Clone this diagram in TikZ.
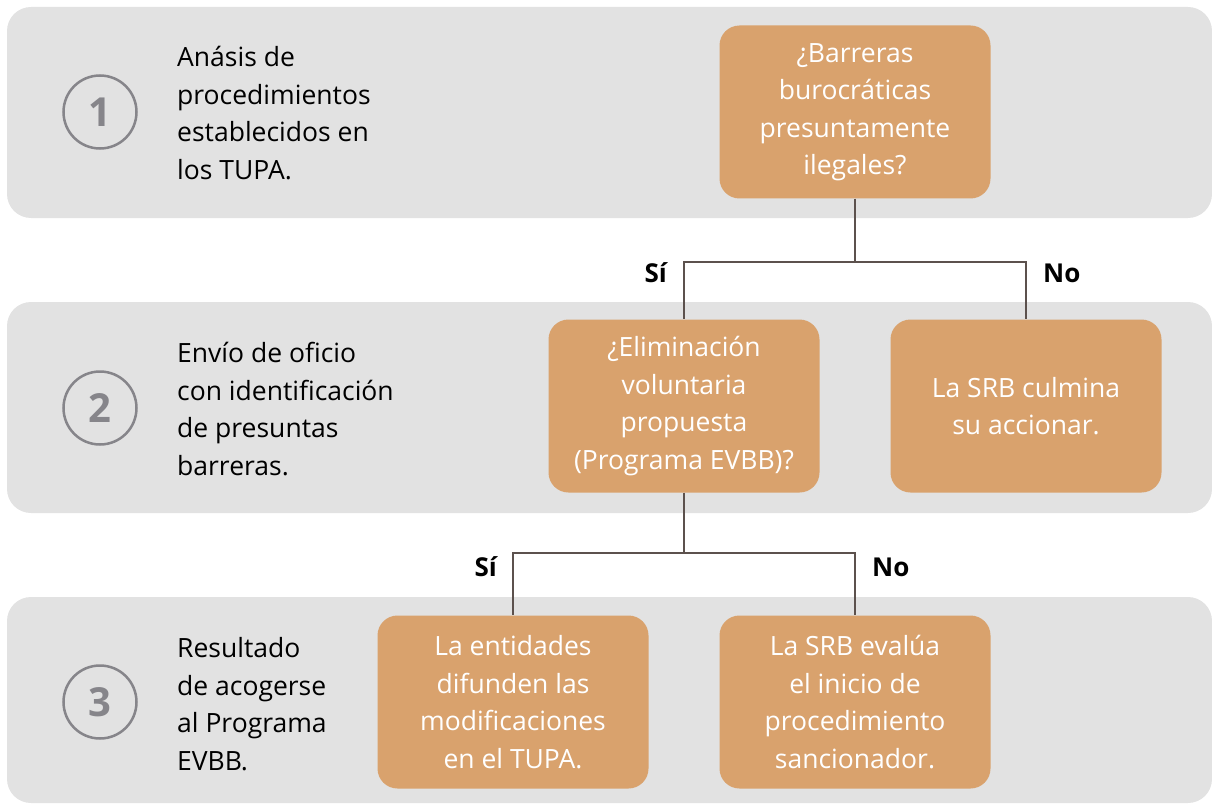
\documentclass[tikz,border=0pt]{standalone}
\usepackage{fontspec}
\setmainfont{Open Sans}
\usetikzlibrary{positioning}
\definecolor{bandgray}{HTML}{E2E2E2}
\definecolor{boxorange}{HTML}{D9A26D}
\definecolor{linkgray}{HTML}{5C514D}
\definecolor{numgray}{HTML}{86858A}

\begin{document}
\begin{tikzpicture}[x=1pt,y=-1pt,
  band/.style={fill=bandgray,rounded corners=24pt},
  main node/.style={fill=boxorange,rounded corners=20pt,minimum width=271pt,
    minimum height=173pt,align=center,text=white,
    font=\fontsize{26.5}{37.5}\selectfont},
  num node/.style={circle,draw=numgray,line width=2.5pt,minimum size=73pt,
    text=numgray,font=\fontsize{40}{40}\selectfont\bfseries},
  side text/.style={anchor=west,align=left,inner sep=0pt,
    font=\fontsize{26.5}{37.5}\selectfont},
  answer/.style={anchor=base,inner sep=0pt,font=\fontsize{26}{30}\selectfont\bfseries},
  link/.style={draw=linkgray,line width=2.4pt}]

  \useasboundingbox (0,0) rectangle (1212,805);

  % bands
  \fill[band] (7,7) rectangle (1212,218);
  \fill[band] (7,302) rectangle (1212,513);
  \fill[band] (7,597) rectangle (1212,803);

  % steps
  \node[num node] (n1) at (100,112) {1};
  \node[num node] (n2) at (100,408) {2};
  \node[num node] (n3) at (100,702) {3};

  \node[side text] (t1) at (177,113) {Anásis de\\procedimientos\\establecidos en\\los TUPA.};
  \node[side text] (t2) at (177,409) {Envío de oficio\\con identificación\\de presuntas\\barreras.};
  \node[side text] (t3) at (177,704) {Resultado\\de acogerse\\al Programa\\EVBB.};

  % decisions
  \node[main node] (1) at (855,112) {¿Barreras\\burocráticas\\presuntamente\\ilegales?};
  \node[main node] (2) at (684,406) {¿Eliminación\\voluntaria\\propuesta\\(Programa EVBB)?};
  \node[main node] (3) at (1026,406) {La SRB culmina\\su accionar.};
  \node[main node] (4) at (513,702) {La entidades\\difunden las\\modificaciones\\en el TUPA.};
  \node[main node] (5) at (855,702) {La SRB evalúa\\el inicio de\\procedimiento\\sancionador.};

  \coordinate (j1) at (855,262);
  \coordinate (j2) at (684,553);

  \draw[link] (1) -- (j1) -| (2);
  \draw[link] (j1) -| (3);
  \draw[link] (2) -- (j2) -| (4);
  \draw[link] (j2) -| (5);

  \node[answer,anchor=base east] (si1) at (667,282) {Sí};
  \node[answer,anchor=base west] (no1) at (1043,282) {No};
  \node[answer,anchor=base east] (si2) at (497,576) {Sí};
  \node[answer,anchor=base west] (no2) at (872,576) {No};
\end{tikzpicture}
\end{document}
